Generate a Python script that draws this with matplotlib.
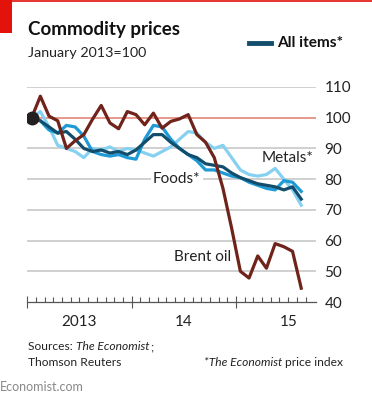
import matplotlib
matplotlib.use("Agg")
import matplotlib.pyplot as plt
from matplotlib.patches import Rectangle
from matplotlib.lines import Line2D

# =========================
# DONNÉES (index janvier 2013 = 100, mensuel jan 2013 -> août 2015)
# =========================

mois = list(range(32))

all_items = [100, 99, 97, 95, 95.5, 93, 90, 89, 89.5, 88.5, 89, 88, 89.5, 92, 94.5, 94.5,
             92, 90, 88, 87, 85, 84.5, 84, 82, 80.5, 79.5, 78.5, 78, 77.5, 76.5, 77.5, 73.5]

foods = [100, 99, 96, 95, 97.5, 97, 94, 89, 88, 87.5, 88, 87, 86.5, 93, 97.5, 97,
         93, 90, 88, 86, 83, 83, 82, 81, 80.5, 79, 78, 77, 76.5, 79.5, 79, 76]

metals = [100, 102, 97, 91, 90, 89, 87, 90, 89.5, 90.5, 89, 90, 89.5, 88.5, 87.5, 89,
          90.5, 93, 95.5, 95, 92, 90, 91, 87, 83, 81.5, 81, 81.5, 83.5, 80, 76.5, 71.5]

brent = [100, 107, 100.5, 99, 90, 92.5, 94.5, 99.5, 104, 98.3, 96.4, 102, 101, 97.7, 101.5, 96.6,
         98.8, 99.6, 101, 94.5, 92, 87, 77, 64, 50, 47.8, 55, 51, 59, 58, 56.5, 44.5]

annees = ["2013", "14", "15"]
y_ticks = [40, 50, 60, 70, 80, 90, 100, 110]

# =========================
# STYLE
# =========================

plt.rcParams["font.family"] = ["Lato", "DejaVu Sans"]

COUL_ALL = "#124e6c"
COUL_FOODS = "#1e9ad6"
COUL_METALS = "#86d1f2"
COUL_BRENT = "#70231a"
COUL_GRILLE = "#c4c4c4"
COUL_ROUGE = "#e3120b"
COUL_TEXTE = "#222222"

W, H = 372, 395
fig = plt.figure(figsize=(W / 100, H / 100), dpi=100)
fig.patch.set_facecolor("white")
renderer = fig.canvas.get_renderer()


def fx(px):
    return px / W


def fy(py):
    return 1 - py / H


def largeur(t):
    return t.get_window_extent(renderer).width


def ajuste(t, cible):
    # ajuste la taille de police pour coller à la largeur du modèle
    t.set_fontsize(t.get_fontsize() * cible / largeur(t))
    return t


# bandeau rouge
fig.add_artist(Rectangle((0, fy(33)), fx(12), 33 / H, transform=fig.transFigure,
                         color=COUL_ROUGE, lw=0))
fig.add_artist(Line2D([0, 1], [0.998, 0.998], transform=fig.transFigure, color=COUL_ROUGE, lw=1.2))

ax = fig.add_axes([fx(27.3), fy(302), fx(316 - 27.3), (302 - 87) / H])
ax.set_xlim(-0.5, 32.7)
ax.set_ylim(40, 110)

# grille
for v in y_ticks[1:]:
    if v == 100:
        ax.axhline(v, color="#e07d6c", lw=1.1, zorder=1)
    else:
        ax.axhline(v, color=COUL_GRILLE, lw=1.1, zorder=1)

lw = 2.3
ax.plot(mois, metals, color=COUL_METALS, lw=lw, zorder=3)
ax.plot(mois, foods, color=COUL_FOODS, lw=lw, zorder=4)
ax.plot(mois, all_items, color=COUL_ALL, lw=lw, zorder=5)
ax.plot(mois, brent, color=COUL_BRENT, lw=lw, zorder=6)
ax.plot([mois[0]], [100], "o", color="#231f20", ms=9, zorder=7)

# axes
for s in ["top", "left", "right"]:
    ax.spines[s].set_visible(False)
ax.spines["bottom"].set_color("#555555")
ax.spines["bottom"].set_linewidth(0.9)

ax.yaxis.tick_right()
ax.set_yticks(y_ticks)
ax.set_yticklabels([str(v) for v in y_ticks])
ax.tick_params(axis="y", length=0, pad=6, labelsize=11, colors=COUL_TEXTE)

ax.set_xticks([i - 0.5 for i in range(33)], minor=True)
ax.set_xticks([-0.5, 11.5, 23.5])
ax.set_xticklabels([])
ax.tick_params(axis="x", which="minor", direction="in", length=3.5, width=0.8, color="#555555")
ax.tick_params(axis="x", which="major", direction="inout", length=8, width=0.8, color="#555555")

for k, a in enumerate(annees):
    ax.text(5.5 + 12 * k, 33.5, a, ha="center", va="center", fontsize=11, color=COUL_TEXTE)

# libellés des séries
ax.text(26.5, 87, "Metals*", fontsize=11, color=COUL_TEXTE, ha="left", va="center", zorder=8)
ax.text(16.7, 80.1, "Foods*", fontsize=11, color=COUL_TEXTE, ha="center", va="center", zorder=8,
        bbox=dict(facecolor="white", edgecolor="none", pad=1.5))
ax.text(19.6, 54.7, "Brent oil", fontsize=11, color=COUL_TEXTE, ha="center", va="center", zorder=8)

# titres
titre = fig.text(fx(28), fy(29), "Commodity prices", fontsize=14, fontweight="bold",
                 color="#111111", ha="left", va="center")
ajuste(titre, 152)
sous = fig.text(fx(28), fy(53), "January 2013=100", fontsize=11, color=COUL_TEXTE,
                ha="left", va="center")
ajuste(sous, 118)

# légende
fig.add_artist(Line2D([fx(249), fx(271)], [fy(43), fy(43)],
                      transform=fig.transFigure, color=COUL_ALL, lw=3.5))
leg = fig.text(fx(277), fy(43), "All items*", fontsize=11, fontweight="bold",
               color="#111111", ha="left", va="center")
ajuste(leg, 66)

# sources
tr = fig.text(fx(28), fy(362), "Thomson Reuters", fontsize=10, color=COUL_TEXTE,
              ha="left", va="center")
ajuste(tr, 93)
fs_src = tr.get_fontsize()

s1 = fig.text(fx(28), fy(347), "Sources: ", fontsize=fs_src, color=COUL_TEXTE, ha="left", va="center")
x1 = 28 + largeur(s1)
s2 = fig.text(fx(x1), fy(347), "The Economist", fontsize=fs_src, style="italic",
              color=COUL_TEXTE, ha="left", va="center")
x2 = x1 + largeur(s2)
fig.text(fx(x2 + 0.5), fy(347), ";", fontsize=fs_src, color=COUL_TEXTE, ha="left", va="center")

n1 = fig.text(fx(343), fy(362), "price index", fontsize=fs_src, color=COUL_TEXTE,
              ha="right", va="center")
x3 = 343 - largeur(n1) - 3
fig.text(fx(x3), fy(362), "*The Economist", fontsize=fs_src, style="italic",
         color=COUL_TEXTE, ha="right", va="center")

eco = fig.text(0, fy(387), "Economist.com", fontsize=10, color="#888888", ha="left", va="center")
ajuste(eco, 84)

fig.savefig("out.png", dpi=100, facecolor="white")
